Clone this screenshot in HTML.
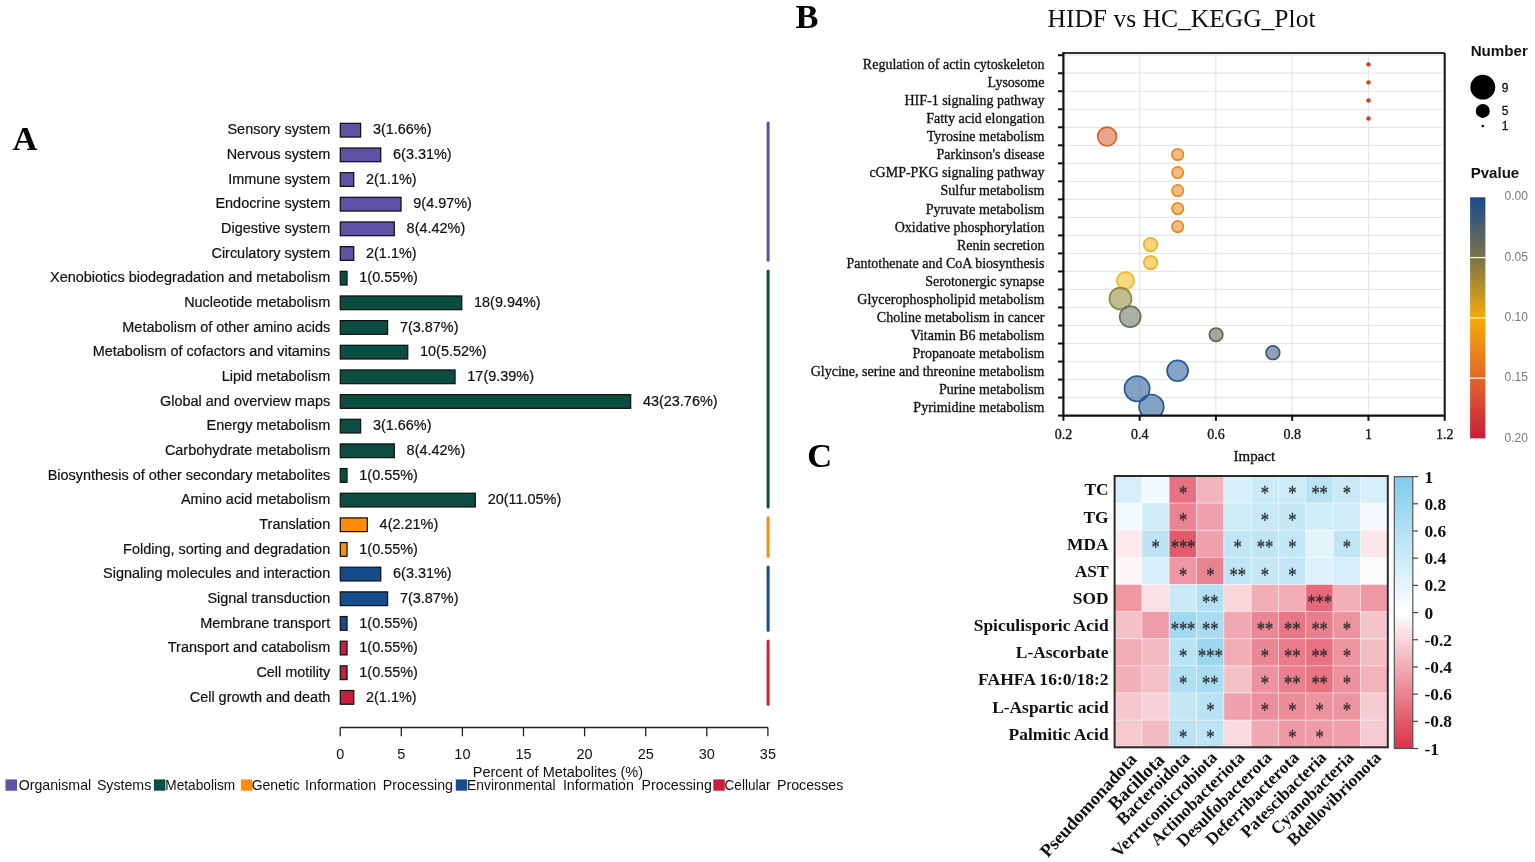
<!DOCTYPE html>
<html><head><meta charset="utf-8"><title>KEGG figure</title>
<style>
html,body{margin:0;padding:0;background:#fff;}
svg{display:block;}
</style></head>
<body>
<svg width="1535" height="862" viewBox="0 0 1535 862">
<rect width="1535" height="862" fill="#fff"/>
<g font-family="'Liberation Sans', Arial, sans-serif" font-size="14.45" fill="#111" stroke="#111" stroke-width="0.2">
<text x="330.2" y="134.40" text-anchor="end">Sensory system</text>
<rect x="340.30" y="123.35" width="20.29" height="13.7" fill="#5F51A6" stroke="#111" stroke-width="1.25"/>
<text x="372.89" y="134.40">3(1.66%)</text>
<text x="330.2" y="159.06" text-anchor="end">Nervous system</text>
<rect x="340.30" y="148.01" width="40.45" height="13.7" fill="#5F51A6" stroke="#111" stroke-width="1.25"/>
<text x="393.05" y="159.06">6(3.31%)</text>
<text x="330.2" y="183.72" text-anchor="end">Immune system</text>
<rect x="340.30" y="172.67" width="13.44" height="13.7" fill="#5F51A6" stroke="#111" stroke-width="1.25"/>
<text x="366.04" y="183.72">2(1.1%)</text>
<text x="330.2" y="208.38" text-anchor="end">Endocrine system</text>
<rect x="340.30" y="197.33" width="60.73" height="13.7" fill="#5F51A6" stroke="#111" stroke-width="1.25"/>
<text x="413.33" y="208.38">9(4.97%)</text>
<text x="330.2" y="233.04" text-anchor="end">Digestive system</text>
<rect x="340.30" y="221.99" width="54.01" height="13.7" fill="#5F51A6" stroke="#111" stroke-width="1.25"/>
<text x="406.61" y="233.04">8(4.42%)</text>
<text x="330.2" y="257.70" text-anchor="end">Circulatory system</text>
<rect x="340.30" y="246.65" width="13.44" height="13.7" fill="#5F51A6" stroke="#111" stroke-width="1.25"/>
<text x="366.04" y="257.70">2(1.1%)</text>
<text x="330.2" y="282.36" text-anchor="end">Xenobiotics biodegradation and metabolism</text>
<rect x="340.30" y="271.31" width="6.72" height="13.7" fill="#0B4E41" stroke="#111" stroke-width="1.25"/>
<text x="359.32" y="282.36">1(0.55%)</text>
<text x="330.2" y="307.02" text-anchor="end">Nucleotide metabolism</text>
<rect x="340.30" y="295.97" width="121.47" height="13.7" fill="#0B4E41" stroke="#111" stroke-width="1.25"/>
<text x="474.07" y="307.02">18(9.94%)</text>
<text x="330.2" y="331.68" text-anchor="end">Metabolism of other amino acids</text>
<rect x="340.30" y="320.63" width="47.29" height="13.7" fill="#0B4E41" stroke="#111" stroke-width="1.25"/>
<text x="399.89" y="331.68">7(3.87%)</text>
<text x="330.2" y="356.34" text-anchor="end">Metabolism of cofactors and vitamins</text>
<rect x="340.30" y="345.29" width="67.45" height="13.7" fill="#0B4E41" stroke="#111" stroke-width="1.25"/>
<text x="420.05" y="356.34">10(5.52%)</text>
<text x="330.2" y="381.00" text-anchor="end">Lipid metabolism</text>
<rect x="340.30" y="369.95" width="114.75" height="13.7" fill="#0B4E41" stroke="#111" stroke-width="1.25"/>
<text x="467.35" y="381.00">17(9.39%)</text>
<text x="330.2" y="405.66" text-anchor="end">Global and overview maps</text>
<rect x="340.30" y="394.61" width="290.35" height="13.7" fill="#0B4E41" stroke="#111" stroke-width="1.25"/>
<text x="642.95" y="405.66">43(23.76%)</text>
<text x="330.2" y="430.32" text-anchor="end">Energy metabolism</text>
<rect x="340.30" y="419.27" width="20.29" height="13.7" fill="#0B4E41" stroke="#111" stroke-width="1.25"/>
<text x="372.89" y="430.32">3(1.66%)</text>
<text x="330.2" y="454.98" text-anchor="end">Carbohydrate metabolism</text>
<rect x="340.30" y="443.93" width="54.01" height="13.7" fill="#0B4E41" stroke="#111" stroke-width="1.25"/>
<text x="406.61" y="454.98">8(4.42%)</text>
<text x="330.2" y="479.64" text-anchor="end">Biosynthesis of other secondary metabolites</text>
<rect x="340.30" y="468.59" width="6.72" height="13.7" fill="#0B4E41" stroke="#111" stroke-width="1.25"/>
<text x="359.32" y="479.64">1(0.55%)</text>
<text x="330.2" y="504.30" text-anchor="end">Amino acid metabolism</text>
<rect x="340.30" y="493.25" width="135.03" height="13.7" fill="#0B4E41" stroke="#111" stroke-width="1.25"/>
<text x="487.63" y="504.30">20(11.05%)</text>
<text x="330.2" y="528.96" text-anchor="end">Translation</text>
<rect x="340.30" y="517.91" width="27.01" height="13.7" fill="#FF8C0A" stroke="#111" stroke-width="1.25"/>
<text x="379.61" y="528.96">4(2.21%)</text>
<text x="330.2" y="553.62" text-anchor="end">Folding, sorting and degradation</text>
<rect x="340.30" y="542.57" width="6.72" height="13.7" fill="#FF8C0A" stroke="#111" stroke-width="1.25"/>
<text x="359.32" y="553.62">1(0.55%)</text>
<text x="330.2" y="578.28" text-anchor="end">Signaling molecules and interaction</text>
<rect x="340.30" y="567.23" width="40.45" height="13.7" fill="#154C8C" stroke="#111" stroke-width="1.25"/>
<text x="393.05" y="578.28">6(3.31%)</text>
<text x="330.2" y="602.94" text-anchor="end">Signal transduction</text>
<rect x="340.30" y="591.89" width="47.29" height="13.7" fill="#154C8C" stroke="#111" stroke-width="1.25"/>
<text x="399.89" y="602.94">7(3.87%)</text>
<text x="330.2" y="627.60" text-anchor="end">Membrane transport</text>
<rect x="340.30" y="616.55" width="6.72" height="13.7" fill="#154C8C" stroke="#111" stroke-width="1.25"/>
<text x="359.32" y="627.60">1(0.55%)</text>
<text x="330.2" y="652.26" text-anchor="end">Transport and catabolism</text>
<rect x="340.30" y="641.21" width="6.72" height="13.7" fill="#C8203A" stroke="#111" stroke-width="1.25"/>
<text x="359.32" y="652.26">1(0.55%)</text>
<text x="330.2" y="676.92" text-anchor="end">Cell motility</text>
<rect x="340.30" y="665.87" width="6.72" height="13.7" fill="#C8203A" stroke="#111" stroke-width="1.25"/>
<text x="359.32" y="676.92">1(0.55%)</text>
<text x="330.2" y="701.58" text-anchor="end">Cell growth and death</text>
<rect x="340.30" y="690.53" width="13.44" height="13.7" fill="#C8203A" stroke="#111" stroke-width="1.25"/>
<text x="366.04" y="701.58">2(1.1%)</text>
</g>
<line x1="768.1" y1="123.10" x2="768.1" y2="260.30" stroke="#5F51A6" stroke-width="3" stroke-linecap="round"/>
<line x1="768.1" y1="271.06" x2="768.1" y2="506.90" stroke="#0B4E41" stroke-width="3" stroke-linecap="round"/>
<line x1="768.1" y1="517.66" x2="768.1" y2="556.22" stroke="#FF8C0A" stroke-width="3" stroke-linecap="round"/>
<line x1="768.1" y1="566.98" x2="768.1" y2="630.20" stroke="#154C8C" stroke-width="3" stroke-linecap="round"/>
<line x1="768.1" y1="640.96" x2="768.1" y2="704.18" stroke="#C8203A" stroke-width="3" stroke-linecap="round"/>
<g stroke="#222" stroke-width="1.3" fill="none">
<line x1="340.20" y1="727.5" x2="767.90" y2="727.5"/>
<line x1="340.20" y1="727.5" x2="340.20" y2="736.3"/>
<line x1="401.30" y1="727.5" x2="401.30" y2="736.3"/>
<line x1="462.40" y1="727.5" x2="462.40" y2="736.3"/>
<line x1="523.50" y1="727.5" x2="523.50" y2="736.3"/>
<line x1="584.60" y1="727.5" x2="584.60" y2="736.3"/>
<line x1="645.70" y1="727.5" x2="645.70" y2="736.3"/>
<line x1="706.80" y1="727.5" x2="706.80" y2="736.3"/>
<line x1="767.90" y1="727.5" x2="767.90" y2="736.3"/>
</g>
<g font-family="'Liberation Sans', Arial, sans-serif" font-size="14.45" fill="#111" text-anchor="middle">
<text x="340.20" y="759.3">0</text>
<text x="401.30" y="759.3">5</text>
<text x="462.40" y="759.3">10</text>
<text x="523.50" y="759.3">15</text>
<text x="584.60" y="759.3">20</text>
<text x="645.70" y="759.3">25</text>
<text x="706.80" y="759.3">30</text>
<text x="767.90" y="759.3">35</text>
<text x="557.9" y="776.7">Percent of Metabolites (%)</text>
</g>
<rect x="5.5" y="779.4" width="11.5" height="11.3" fill="#5F51A6"/>
<rect x="153.9" y="779.4" width="11.5" height="11.3" fill="#0B4E41"/>
<rect x="240.9" y="779.4" width="11.5" height="11.3" fill="#FF8C0A"/>
<rect x="455.8" y="779.4" width="11.5" height="11.3" fill="#154C8C"/>
<rect x="713.3" y="779.4" width="11.5" height="11.3" fill="#C8203A"/>
<g font-family="'Liberation Sans', Arial, sans-serif" font-size="14.2" fill="#111">
<text x="18.70" y="790.2">Organismal</text>
<text x="96.90" y="790.2">Systems</text>
<text x="165.30" y="790.2" textLength="69.9" lengthAdjust="spacingAndGlyphs">Metabolism</text>
<text x="251.70" y="790.2" textLength="48.0" lengthAdjust="spacingAndGlyphs">Genetic</text>
<text x="305.10" y="790.2">Information</text>
<text x="382.80" y="790.2">Processing</text>
<text x="467.00" y="790.2" textLength="88.6" lengthAdjust="spacingAndGlyphs">Environmental</text>
<text x="562.90" y="790.2">Information</text>
<text x="641.60" y="790.2">Processing</text>
<text x="724.60" y="790.2" textLength="45.9" lengthAdjust="spacingAndGlyphs">Cellular</text>
<text x="777.00" y="790.2">Processes</text>
</g>
<text x="12.6" y="149.6" font-family="'Liberation Serif', 'Times New Roman', serif" font-weight="bold" font-size="34.5" fill="#000">A</text>
<text x="795.4" y="27.6" font-family="'Liberation Serif', 'Times New Roman', serif" font-weight="bold" font-size="34.5" fill="#000">B</text>
<text x="1181.5" y="27" font-family="'Liberation Serif', 'Times New Roman', serif" font-size="24.5" text-anchor="middle" fill="#111" textLength="268" lengthAdjust="spacingAndGlyphs">HIDF vs HC_KEGG_Plot</text>
<g stroke="#E6E6E6" stroke-width="1.2">
<line x1="1063.4" y1="55.20" x2="1444.7" y2="55.20"/>
<line x1="1063.4" y1="73.22" x2="1444.7" y2="73.22"/>
<line x1="1063.4" y1="91.24" x2="1444.7" y2="91.24"/>
<line x1="1063.4" y1="109.26" x2="1444.7" y2="109.26"/>
<line x1="1063.4" y1="127.28" x2="1444.7" y2="127.28"/>
<line x1="1063.4" y1="145.30" x2="1444.7" y2="145.30"/>
<line x1="1063.4" y1="163.32" x2="1444.7" y2="163.32"/>
<line x1="1063.4" y1="181.34" x2="1444.7" y2="181.34"/>
<line x1="1063.4" y1="199.36" x2="1444.7" y2="199.36"/>
<line x1="1063.4" y1="217.38" x2="1444.7" y2="217.38"/>
<line x1="1063.4" y1="235.40" x2="1444.7" y2="235.40"/>
<line x1="1063.4" y1="253.42" x2="1444.7" y2="253.42"/>
<line x1="1063.4" y1="271.44" x2="1444.7" y2="271.44"/>
<line x1="1063.4" y1="289.46" x2="1444.7" y2="289.46"/>
<line x1="1063.4" y1="307.48" x2="1444.7" y2="307.48"/>
<line x1="1063.4" y1="325.50" x2="1444.7" y2="325.50"/>
<line x1="1063.4" y1="343.52" x2="1444.7" y2="343.52"/>
<line x1="1063.4" y1="361.54" x2="1444.7" y2="361.54"/>
<line x1="1063.4" y1="379.56" x2="1444.7" y2="379.56"/>
<line x1="1063.4" y1="397.58" x2="1444.7" y2="397.58"/>
<line x1="1139.66" y1="52.9" x2="1139.66" y2="415.7"/>
<line x1="1215.92" y1="52.9" x2="1215.92" y2="415.7"/>
<line x1="1292.18" y1="52.9" x2="1292.18" y2="415.7"/>
<line x1="1368.44" y1="52.9" x2="1368.44" y2="415.7"/>
</g>
<defs><clipPath id="bclip"><rect x="1063.4" y="52.9" width="381.29999999999995" height="362.8"/></clipPath></defs>
<g clip-path="url(#bclip)">
<circle cx="1368.5" cy="64.40" r="2.2" fill="#D4401A"/>
<circle cx="1368.5" cy="82.42" r="2.2" fill="#D4401A"/>
<circle cx="1368.5" cy="100.44" r="2.2" fill="#D4401A"/>
<circle cx="1368.5" cy="118.46" r="2.2" fill="#D4401A"/>
<circle cx="1107.1" cy="136.48" r="9.40" fill="#D9612F" fill-opacity="0.56" stroke="#D9612F" stroke-width="1.7"/>
<circle cx="1177.7" cy="154.50" r="5.70" fill="#E8891E" fill-opacity="0.56" stroke="#E8891E" stroke-width="1.7"/>
<circle cx="1177.7" cy="172.52" r="5.70" fill="#E8891E" fill-opacity="0.56" stroke="#E8891E" stroke-width="1.7"/>
<circle cx="1177.7" cy="190.54" r="5.70" fill="#E8891E" fill-opacity="0.56" stroke="#E8891E" stroke-width="1.7"/>
<circle cx="1177.7" cy="208.56" r="5.70" fill="#E8891E" fill-opacity="0.56" stroke="#E8891E" stroke-width="1.7"/>
<circle cx="1177.7" cy="226.58" r="5.70" fill="#E8891E" fill-opacity="0.56" stroke="#E8891E" stroke-width="1.7"/>
<circle cx="1150.6" cy="244.60" r="6.80" fill="#F0B21A" fill-opacity="0.56" stroke="#F0B21A" stroke-width="1.7"/>
<circle cx="1150.6" cy="262.62" r="6.80" fill="#F0B21A" fill-opacity="0.56" stroke="#F0B21A" stroke-width="1.7"/>
<circle cx="1125.5" cy="280.64" r="8.60" fill="#F2B820" fill-opacity="0.56" stroke="#F2B820" stroke-width="1.7"/>
<circle cx="1120.4" cy="298.66" r="11.00" fill="#8E8A3A" fill-opacity="0.56" stroke="#8E8A3A" stroke-width="1.7"/>
<circle cx="1130.2" cy="316.68" r="10.50" fill="#69735E" fill-opacity="0.56" stroke="#69735E" stroke-width="1.7"/>
<circle cx="1216.1" cy="334.70" r="6.70" fill="#5E6850" fill-opacity="0.56" stroke="#5E6850" stroke-width="1.7"/>
<circle cx="1272.9" cy="352.72" r="6.80" fill="#3A5A7A" fill-opacity="0.56" stroke="#3A5A7A" stroke-width="1.7"/>
<circle cx="1177.6" cy="370.74" r="10.50" fill="#245C96" fill-opacity="0.56" stroke="#245C96" stroke-width="1.7"/>
<circle cx="1137.1" cy="388.76" r="12.60" fill="#235A95" fill-opacity="0.56" stroke="#235A95" stroke-width="1.7"/>
<circle cx="1151.4" cy="406.78" r="12.30" fill="#235A95" fill-opacity="0.56" stroke="#235A95" stroke-width="1.7"/>
</g>
<g stroke="#111" fill="none">
<line x1="1063.4" y1="52.9" x2="1444.7" y2="52.9" stroke="#333" stroke-width="2"/>
<line x1="1444.7" y1="52.9" x2="1444.7" y2="415.7" stroke-width="2"/>
<line x1="1063.4" y1="51.9" x2="1063.4" y2="416.7" stroke-width="2.2"/>
<line x1="1062.4" y1="415.7" x2="1445.7" y2="415.7" stroke-width="2.2"/>
<line x1="1058" y1="55.20" x2="1063.4" y2="55.20" stroke-width="2"/>
<line x1="1058" y1="73.22" x2="1063.4" y2="73.22" stroke-width="2"/>
<line x1="1058" y1="91.24" x2="1063.4" y2="91.24" stroke-width="2"/>
<line x1="1058" y1="109.26" x2="1063.4" y2="109.26" stroke-width="2"/>
<line x1="1058" y1="127.28" x2="1063.4" y2="127.28" stroke-width="2"/>
<line x1="1058" y1="145.30" x2="1063.4" y2="145.30" stroke-width="2"/>
<line x1="1058" y1="163.32" x2="1063.4" y2="163.32" stroke-width="2"/>
<line x1="1058" y1="181.34" x2="1063.4" y2="181.34" stroke-width="2"/>
<line x1="1058" y1="199.36" x2="1063.4" y2="199.36" stroke-width="2"/>
<line x1="1058" y1="217.38" x2="1063.4" y2="217.38" stroke-width="2"/>
<line x1="1058" y1="235.40" x2="1063.4" y2="235.40" stroke-width="2"/>
<line x1="1058" y1="253.42" x2="1063.4" y2="253.42" stroke-width="2"/>
<line x1="1058" y1="271.44" x2="1063.4" y2="271.44" stroke-width="2"/>
<line x1="1058" y1="289.46" x2="1063.4" y2="289.46" stroke-width="2"/>
<line x1="1058" y1="307.48" x2="1063.4" y2="307.48" stroke-width="2"/>
<line x1="1058" y1="325.50" x2="1063.4" y2="325.50" stroke-width="2"/>
<line x1="1058" y1="343.52" x2="1063.4" y2="343.52" stroke-width="2"/>
<line x1="1058" y1="361.54" x2="1063.4" y2="361.54" stroke-width="2"/>
<line x1="1058" y1="379.56" x2="1063.4" y2="379.56" stroke-width="2"/>
<line x1="1058" y1="397.58" x2="1063.4" y2="397.58" stroke-width="2"/>
<line x1="1058" y1="415.60" x2="1063.4" y2="415.60" stroke-width="2"/>
<line x1="1063.40" y1="415.7" x2="1063.40" y2="420.8" stroke-width="2"/>
<line x1="1139.66" y1="415.7" x2="1139.66" y2="420.8" stroke-width="2"/>
<line x1="1215.92" y1="415.7" x2="1215.92" y2="420.8" stroke-width="2"/>
<line x1="1292.18" y1="415.7" x2="1292.18" y2="420.8" stroke-width="2"/>
<line x1="1368.44" y1="415.7" x2="1368.44" y2="420.8" stroke-width="2"/>
<line x1="1444.70" y1="415.7" x2="1444.70" y2="420.8" stroke-width="2"/>
</g>
<g font-family="'Liberation Serif', 'Times New Roman', serif" font-size="14" fill="#111" stroke="#111" stroke-width="0.3">
<text x="1044.4" y="69.35" text-anchor="end">Regulation of actin cytoskeleton</text>
<text x="1044.4" y="87.37" text-anchor="end">Lysosome</text>
<text x="1044.4" y="105.39" text-anchor="end">HIF-1 signaling pathway</text>
<text x="1044.4" y="123.41" text-anchor="end">Fatty acid elongation</text>
<text x="1044.4" y="141.43" text-anchor="end">Tyrosine metabolism</text>
<text x="1044.4" y="159.45" text-anchor="end">Parkinson&#39;s disease</text>
<text x="1044.4" y="177.47" text-anchor="end">cGMP-PKG signaling pathway</text>
<text x="1044.4" y="195.49" text-anchor="end">Sulfur metabolism</text>
<text x="1044.4" y="213.51" text-anchor="end">Pyruvate metabolism</text>
<text x="1044.4" y="231.53" text-anchor="end">Oxidative phosphorylation</text>
<text x="1044.4" y="249.55" text-anchor="end">Renin secretion</text>
<text x="1044.4" y="267.57" text-anchor="end">Pantothenate and CoA biosynthesis</text>
<text x="1044.4" y="285.59" text-anchor="end">Serotonergic synapse</text>
<text x="1044.4" y="303.61" text-anchor="end">Glycerophospholipid metabolism</text>
<text x="1044.4" y="321.63" text-anchor="end">Choline metabolism in cancer</text>
<text x="1044.4" y="339.65" text-anchor="end">Vitamin B6 metabolism</text>
<text x="1044.4" y="357.67" text-anchor="end">Propanoate metabolism</text>
<text x="1044.4" y="375.69" text-anchor="end">Glycine, serine and threonine metabolism</text>
<text x="1044.4" y="393.71" text-anchor="end">Purine metabolism</text>
<text x="1044.4" y="411.73" text-anchor="end">Pyrimidine metabolism</text>
<text x="1063.40" y="438.8" text-anchor="middle">0.2</text>
<text x="1139.66" y="438.8" text-anchor="middle">0.4</text>
<text x="1215.92" y="438.8" text-anchor="middle">0.6</text>
<text x="1292.18" y="438.8" text-anchor="middle">0.8</text>
<text x="1368.44" y="438.8" text-anchor="middle">1</text>
<text x="1444.70" y="438.8" text-anchor="middle">1.2</text>
<text x="1254.3" y="461.1" text-anchor="middle" textLength="41.5" lengthAdjust="spacingAndGlyphs">Impact</text>
</g>
<g font-family="'Liberation Sans', Arial, sans-serif" font-weight="bold" font-size="14.5" fill="#111">
<text x="1470.7" y="55.9" textLength="57.2" lengthAdjust="spacingAndGlyphs">Number</text>
<text x="1470.7" y="177.6" textLength="48.5" lengthAdjust="spacingAndGlyphs">Pvalue</text>
</g>
<g fill="#000">
<circle cx="1482.8" cy="87.2" r="12.4"/>
<circle cx="1482.8" cy="110.9" r="7"/>
<circle cx="1482.8" cy="126" r="1.3"/>
</g>
<g font-family="'Liberation Sans', Arial, sans-serif" font-size="12" fill="#111" stroke="#111" stroke-width="0.3">
<text x="1501.8" y="91.50">9</text>
<text x="1501.8" y="115.20">5</text>
<text x="1501.8" y="130.30">1</text>
</g>
<defs><linearGradient id="pgrad" x1="0" y1="0" x2="0" y2="1"><stop offset="0" stop-color="#1B4A8C"/><stop offset="0.25" stop-color="#77744A"/><stop offset="0.5" stop-color="#F7AA0A"/><stop offset="0.75" stop-color="#E2662A"/><stop offset="1" stop-color="#C81E3C"/></linearGradient></defs>
<rect x="1470.1" y="197.3" width="15.3" height="241.1" fill="url(#pgrad)"/>
<g stroke="#fff" stroke-width="1.3" opacity="0.9">
<line x1="1470.1" y1="257.57" x2="1485.4" y2="257.57"/>
<line x1="1470.1" y1="317.85" x2="1485.4" y2="317.85"/>
<line x1="1470.1" y1="378.12" x2="1485.4" y2="378.12"/>
</g>
<g font-family="'Liberation Sans', Arial, sans-serif" font-size="12" fill="#7a7a7a">
<text x="1504.6" y="200.30">0.00</text>
<text x="1504.6" y="260.60">0.05</text>
<text x="1504.6" y="320.90">0.10</text>
<text x="1504.6" y="381.20">0.15</text>
<text x="1504.6" y="441.50">0.20</text>
</g>
<text x="807.3" y="466.5" font-family="'Liberation Serif', 'Times New Roman', serif" font-weight="bold" font-size="34.5" fill="#000">C</text>
<rect x="1114.60" y="476.00" width="27.32" height="27.13" fill="#D5EEF9" stroke="#fff" stroke-opacity="0.4" stroke-width="0.9"/>
<rect x="1141.92" y="476.00" width="27.32" height="27.13" fill="#F0F9FD" stroke="#fff" stroke-opacity="0.4" stroke-width="0.9"/>
<rect x="1169.24" y="476.00" width="27.32" height="27.13" fill="#E77283" stroke="#fff" stroke-opacity="0.4" stroke-width="0.9"/>
<rect x="1196.56" y="476.00" width="27.32" height="27.13" fill="#F2B4BD" stroke="#fff" stroke-opacity="0.4" stroke-width="0.9"/>
<rect x="1223.88" y="476.00" width="27.32" height="27.13" fill="#D6EFF9" stroke="#fff" stroke-opacity="0.4" stroke-width="0.9"/>
<rect x="1251.20" y="476.00" width="27.32" height="27.13" fill="#CCEBF7" stroke="#fff" stroke-opacity="0.4" stroke-width="0.9"/>
<rect x="1278.52" y="476.00" width="27.32" height="27.13" fill="#CCEBF7" stroke="#fff" stroke-opacity="0.4" stroke-width="0.9"/>
<rect x="1305.84" y="476.00" width="27.32" height="27.13" fill="#B9E3F5" stroke="#fff" stroke-opacity="0.4" stroke-width="0.9"/>
<rect x="1333.16" y="476.00" width="27.32" height="27.13" fill="#CAEAF7" stroke="#fff" stroke-opacity="0.4" stroke-width="0.9"/>
<rect x="1360.48" y="476.00" width="27.32" height="27.13" fill="#D5EEF9" stroke="#fff" stroke-opacity="0.4" stroke-width="0.9"/>
<rect x="1114.60" y="503.13" width="27.32" height="27.13" fill="#F2FAFD" stroke="#fff" stroke-opacity="0.4" stroke-width="0.9"/>
<rect x="1141.92" y="503.13" width="27.32" height="27.13" fill="#CFECF8" stroke="#fff" stroke-opacity="0.4" stroke-width="0.9"/>
<rect x="1169.24" y="503.13" width="27.32" height="27.13" fill="#EA8391" stroke="#fff" stroke-opacity="0.4" stroke-width="0.9"/>
<rect x="1196.56" y="503.13" width="27.32" height="27.13" fill="#EFA2AD" stroke="#fff" stroke-opacity="0.4" stroke-width="0.9"/>
<rect x="1223.88" y="503.13" width="27.32" height="27.13" fill="#CCEBF7" stroke="#fff" stroke-opacity="0.4" stroke-width="0.9"/>
<rect x="1251.20" y="503.13" width="27.32" height="27.13" fill="#C8E9F7" stroke="#fff" stroke-opacity="0.4" stroke-width="0.9"/>
<rect x="1278.52" y="503.13" width="27.32" height="27.13" fill="#C5E8F6" stroke="#fff" stroke-opacity="0.4" stroke-width="0.9"/>
<rect x="1305.84" y="503.13" width="27.32" height="27.13" fill="#D1EDF8" stroke="#fff" stroke-opacity="0.4" stroke-width="0.9"/>
<rect x="1333.16" y="503.13" width="27.32" height="27.13" fill="#CFECF8" stroke="#fff" stroke-opacity="0.4" stroke-width="0.9"/>
<rect x="1360.48" y="503.13" width="27.32" height="27.13" fill="#F5FBFD" stroke="#fff" stroke-opacity="0.4" stroke-width="0.9"/>
<rect x="1114.60" y="530.26" width="27.32" height="27.13" fill="#FCEAED" stroke="#fff" stroke-opacity="0.4" stroke-width="0.9"/>
<rect x="1141.92" y="530.26" width="27.32" height="27.13" fill="#BDE4F5" stroke="#fff" stroke-opacity="0.4" stroke-width="0.9"/>
<rect x="1169.24" y="530.26" width="27.32" height="27.13" fill="#E3596D" stroke="#fff" stroke-opacity="0.4" stroke-width="0.9"/>
<rect x="1196.56" y="530.26" width="27.32" height="27.13" fill="#EFA2AD" stroke="#fff" stroke-opacity="0.4" stroke-width="0.9"/>
<rect x="1223.88" y="530.26" width="27.32" height="27.13" fill="#C0E6F6" stroke="#fff" stroke-opacity="0.4" stroke-width="0.9"/>
<rect x="1251.20" y="530.26" width="27.32" height="27.13" fill="#C0E6F6" stroke="#fff" stroke-opacity="0.4" stroke-width="0.9"/>
<rect x="1278.52" y="530.26" width="27.32" height="27.13" fill="#C2E7F6" stroke="#fff" stroke-opacity="0.4" stroke-width="0.9"/>
<rect x="1305.84" y="530.26" width="27.32" height="27.13" fill="#E3F4FB" stroke="#fff" stroke-opacity="0.4" stroke-width="0.9"/>
<rect x="1333.16" y="530.26" width="27.32" height="27.13" fill="#C0E6F6" stroke="#fff" stroke-opacity="0.4" stroke-width="0.9"/>
<rect x="1360.48" y="530.26" width="27.32" height="27.13" fill="#FBE6E9" stroke="#fff" stroke-opacity="0.4" stroke-width="0.9"/>
<rect x="1114.60" y="557.39" width="27.32" height="27.13" fill="#FEF7F8" stroke="#fff" stroke-opacity="0.4" stroke-width="0.9"/>
<rect x="1141.92" y="557.39" width="27.32" height="27.13" fill="#D5EEF9" stroke="#fff" stroke-opacity="0.4" stroke-width="0.9"/>
<rect x="1169.24" y="557.39" width="27.32" height="27.13" fill="#EE98A4" stroke="#fff" stroke-opacity="0.4" stroke-width="0.9"/>
<rect x="1196.56" y="557.39" width="27.32" height="27.13" fill="#EA8391" stroke="#fff" stroke-opacity="0.4" stroke-width="0.9"/>
<rect x="1223.88" y="557.39" width="27.32" height="27.13" fill="#C0E6F6" stroke="#fff" stroke-opacity="0.4" stroke-width="0.9"/>
<rect x="1251.20" y="557.39" width="27.32" height="27.13" fill="#C6E8F6" stroke="#fff" stroke-opacity="0.4" stroke-width="0.9"/>
<rect x="1278.52" y="557.39" width="27.32" height="27.13" fill="#C3E7F6" stroke="#fff" stroke-opacity="0.4" stroke-width="0.9"/>
<rect x="1305.84" y="557.39" width="27.32" height="27.13" fill="#DFF2FA" stroke="#fff" stroke-opacity="0.4" stroke-width="0.9"/>
<rect x="1333.16" y="557.39" width="27.32" height="27.13" fill="#D5EEF9" stroke="#fff" stroke-opacity="0.4" stroke-width="0.9"/>
<rect x="1360.48" y="557.39" width="27.32" height="27.13" fill="#FEFBFB" stroke="#fff" stroke-opacity="0.4" stroke-width="0.9"/>
<rect x="1114.60" y="584.52" width="27.32" height="27.13" fill="#EE98A4" stroke="#fff" stroke-opacity="0.4" stroke-width="0.9"/>
<rect x="1141.92" y="584.52" width="27.32" height="27.13" fill="#FAE0E4" stroke="#fff" stroke-opacity="0.4" stroke-width="0.9"/>
<rect x="1169.24" y="584.52" width="27.32" height="27.13" fill="#CAEAF7" stroke="#fff" stroke-opacity="0.4" stroke-width="0.9"/>
<rect x="1196.56" y="584.52" width="27.32" height="27.13" fill="#B3E0F4" stroke="#fff" stroke-opacity="0.4" stroke-width="0.9"/>
<rect x="1223.88" y="584.52" width="27.32" height="27.13" fill="#F8D6DA" stroke="#fff" stroke-opacity="0.4" stroke-width="0.9"/>
<rect x="1251.20" y="584.52" width="27.32" height="27.13" fill="#F1ACB6" stroke="#fff" stroke-opacity="0.4" stroke-width="0.9"/>
<rect x="1278.52" y="584.52" width="27.32" height="27.13" fill="#F1ACB6" stroke="#fff" stroke-opacity="0.4" stroke-width="0.9"/>
<rect x="1305.84" y="584.52" width="27.32" height="27.13" fill="#E66A7B" stroke="#fff" stroke-opacity="0.4" stroke-width="0.9"/>
<rect x="1333.16" y="584.52" width="27.32" height="27.13" fill="#F2B0B9" stroke="#fff" stroke-opacity="0.4" stroke-width="0.9"/>
<rect x="1360.48" y="584.52" width="27.32" height="27.13" fill="#EE98A4" stroke="#fff" stroke-opacity="0.4" stroke-width="0.9"/>
<rect x="1114.60" y="611.65" width="27.32" height="27.13" fill="#F4C1C8" stroke="#fff" stroke-opacity="0.4" stroke-width="0.9"/>
<rect x="1141.92" y="611.65" width="27.32" height="27.13" fill="#EE9CA7" stroke="#fff" stroke-opacity="0.4" stroke-width="0.9"/>
<rect x="1169.24" y="611.65" width="27.32" height="27.13" fill="#A0D9F1" stroke="#fff" stroke-opacity="0.4" stroke-width="0.9"/>
<rect x="1196.56" y="611.65" width="27.32" height="27.13" fill="#A9DCF2" stroke="#fff" stroke-opacity="0.4" stroke-width="0.9"/>
<rect x="1223.88" y="611.65" width="27.32" height="27.13" fill="#F0A8B2" stroke="#fff" stroke-opacity="0.4" stroke-width="0.9"/>
<rect x="1251.20" y="611.65" width="27.32" height="27.13" fill="#EB8795" stroke="#fff" stroke-opacity="0.4" stroke-width="0.9"/>
<rect x="1278.52" y="611.65" width="27.32" height="27.13" fill="#E87686" stroke="#fff" stroke-opacity="0.4" stroke-width="0.9"/>
<rect x="1305.84" y="611.65" width="27.32" height="27.13" fill="#E97F8E" stroke="#fff" stroke-opacity="0.4" stroke-width="0.9"/>
<rect x="1333.16" y="611.65" width="27.32" height="27.13" fill="#ED93A0" stroke="#fff" stroke-opacity="0.4" stroke-width="0.9"/>
<rect x="1360.48" y="611.65" width="27.32" height="27.13" fill="#F5C5CC" stroke="#fff" stroke-opacity="0.4" stroke-width="0.9"/>
<rect x="1114.60" y="638.78" width="27.32" height="27.13" fill="#F1ACB6" stroke="#fff" stroke-opacity="0.4" stroke-width="0.9"/>
<rect x="1141.92" y="638.78" width="27.32" height="27.13" fill="#F3B9C1" stroke="#fff" stroke-opacity="0.4" stroke-width="0.9"/>
<rect x="1169.24" y="638.78" width="27.32" height="27.13" fill="#B9E3F5" stroke="#fff" stroke-opacity="0.4" stroke-width="0.9"/>
<rect x="1196.56" y="638.78" width="27.32" height="27.13" fill="#9CD7F0" stroke="#fff" stroke-opacity="0.4" stroke-width="0.9"/>
<rect x="1223.88" y="638.78" width="27.32" height="27.13" fill="#F1ACB6" stroke="#fff" stroke-opacity="0.4" stroke-width="0.9"/>
<rect x="1251.20" y="638.78" width="27.32" height="27.13" fill="#EB8795" stroke="#fff" stroke-opacity="0.4" stroke-width="0.9"/>
<rect x="1278.52" y="638.78" width="27.32" height="27.13" fill="#E97B8A" stroke="#fff" stroke-opacity="0.4" stroke-width="0.9"/>
<rect x="1305.84" y="638.78" width="27.32" height="27.13" fill="#E77283" stroke="#fff" stroke-opacity="0.4" stroke-width="0.9"/>
<rect x="1333.16" y="638.78" width="27.32" height="27.13" fill="#ED93A0" stroke="#fff" stroke-opacity="0.4" stroke-width="0.9"/>
<rect x="1360.48" y="638.78" width="27.32" height="27.13" fill="#F4BDC4" stroke="#fff" stroke-opacity="0.4" stroke-width="0.9"/>
<rect x="1114.60" y="665.91" width="27.32" height="27.13" fill="#F2B0B9" stroke="#fff" stroke-opacity="0.4" stroke-width="0.9"/>
<rect x="1141.92" y="665.91" width="27.32" height="27.13" fill="#F4C1C8" stroke="#fff" stroke-opacity="0.4" stroke-width="0.9"/>
<rect x="1169.24" y="665.91" width="27.32" height="27.13" fill="#B0DFF3" stroke="#fff" stroke-opacity="0.4" stroke-width="0.9"/>
<rect x="1196.56" y="665.91" width="27.32" height="27.13" fill="#ABDDF2" stroke="#fff" stroke-opacity="0.4" stroke-width="0.9"/>
<rect x="1223.88" y="665.91" width="27.32" height="27.13" fill="#F4C1C8" stroke="#fff" stroke-opacity="0.4" stroke-width="0.9"/>
<rect x="1251.20" y="665.91" width="27.32" height="27.13" fill="#ED93A0" stroke="#fff" stroke-opacity="0.4" stroke-width="0.9"/>
<rect x="1278.52" y="665.91" width="27.32" height="27.13" fill="#E97F8E" stroke="#fff" stroke-opacity="0.4" stroke-width="0.9"/>
<rect x="1305.84" y="665.91" width="27.32" height="27.13" fill="#E87484" stroke="#fff" stroke-opacity="0.4" stroke-width="0.9"/>
<rect x="1333.16" y="665.91" width="27.32" height="27.13" fill="#EC919E" stroke="#fff" stroke-opacity="0.4" stroke-width="0.9"/>
<rect x="1360.48" y="665.91" width="27.32" height="27.13" fill="#F2B2BB" stroke="#fff" stroke-opacity="0.4" stroke-width="0.9"/>
<rect x="1114.60" y="693.04" width="27.32" height="27.13" fill="#F6C7CE" stroke="#fff" stroke-opacity="0.4" stroke-width="0.9"/>
<rect x="1141.92" y="693.04" width="27.32" height="27.13" fill="#F7D1D7" stroke="#fff" stroke-opacity="0.4" stroke-width="0.9"/>
<rect x="1169.24" y="693.04" width="27.32" height="27.13" fill="#C6E8F6" stroke="#fff" stroke-opacity="0.4" stroke-width="0.9"/>
<rect x="1196.56" y="693.04" width="27.32" height="27.13" fill="#B9E3F5" stroke="#fff" stroke-opacity="0.4" stroke-width="0.9"/>
<rect x="1223.88" y="693.04" width="27.32" height="27.13" fill="#EFA2AD" stroke="#fff" stroke-opacity="0.4" stroke-width="0.9"/>
<rect x="1251.20" y="693.04" width="27.32" height="27.13" fill="#EC8F9C" stroke="#fff" stroke-opacity="0.4" stroke-width="0.9"/>
<rect x="1278.52" y="693.04" width="27.32" height="27.13" fill="#EC8D9A" stroke="#fff" stroke-opacity="0.4" stroke-width="0.9"/>
<rect x="1305.84" y="693.04" width="27.32" height="27.13" fill="#ED93A0" stroke="#fff" stroke-opacity="0.4" stroke-width="0.9"/>
<rect x="1333.16" y="693.04" width="27.32" height="27.13" fill="#ED93A0" stroke="#fff" stroke-opacity="0.4" stroke-width="0.9"/>
<rect x="1360.48" y="693.04" width="27.32" height="27.13" fill="#F6CBD1" stroke="#fff" stroke-opacity="0.4" stroke-width="0.9"/>
<rect x="1114.60" y="720.17" width="27.32" height="27.13" fill="#F6C9CF" stroke="#fff" stroke-opacity="0.4" stroke-width="0.9"/>
<rect x="1141.92" y="720.17" width="27.32" height="27.13" fill="#F3BBC3" stroke="#fff" stroke-opacity="0.4" stroke-width="0.9"/>
<rect x="1169.24" y="720.17" width="27.32" height="27.13" fill="#B9E3F5" stroke="#fff" stroke-opacity="0.4" stroke-width="0.9"/>
<rect x="1196.56" y="720.17" width="27.32" height="27.13" fill="#BDE4F5" stroke="#fff" stroke-opacity="0.4" stroke-width="0.9"/>
<rect x="1223.88" y="720.17" width="27.32" height="27.13" fill="#F9DADE" stroke="#fff" stroke-opacity="0.4" stroke-width="0.9"/>
<rect x="1251.20" y="720.17" width="27.32" height="27.13" fill="#F0A8B2" stroke="#fff" stroke-opacity="0.4" stroke-width="0.9"/>
<rect x="1278.52" y="720.17" width="27.32" height="27.13" fill="#EE98A4" stroke="#fff" stroke-opacity="0.4" stroke-width="0.9"/>
<rect x="1305.84" y="720.17" width="27.32" height="27.13" fill="#EE9CA7" stroke="#fff" stroke-opacity="0.4" stroke-width="0.9"/>
<rect x="1333.16" y="720.17" width="27.32" height="27.13" fill="#EFA0AB" stroke="#fff" stroke-opacity="0.4" stroke-width="0.9"/>
<rect x="1360.48" y="720.17" width="27.32" height="27.13" fill="#F6CBD1" stroke="#fff" stroke-opacity="0.4" stroke-width="0.9"/>
<rect x="1114.6" y="476.0" width="273.20" height="271.30" fill="none" stroke="#2a2a2a" stroke-width="2"/>
<g font-family="'Liberation Serif', 'Times New Roman', serif" font-size="16.6" fill="#2a2a2a" stroke="#2a2a2a" stroke-width="0.2" text-anchor="middle" letter-spacing="-0.1">
<text transform="translate(1183.00,489.56) scale(1,1.3)" x="0" y="8.2">*</text>
<text transform="translate(1264.96,489.56) scale(1,1.3)" x="0" y="8.2">*</text>
<text transform="translate(1292.28,489.56) scale(1,1.3)" x="0" y="8.2">*</text>
<text transform="translate(1319.60,489.56) scale(1,1.3)" x="0" y="8.2">**</text>
<text transform="translate(1346.92,489.56) scale(1,1.3)" x="0" y="8.2">*</text>
<text transform="translate(1183.00,516.69) scale(1,1.3)" x="0" y="8.2">*</text>
<text transform="translate(1264.96,516.69) scale(1,1.3)" x="0" y="8.2">*</text>
<text transform="translate(1292.28,516.69) scale(1,1.3)" x="0" y="8.2">*</text>
<text transform="translate(1155.68,543.83) scale(1,1.3)" x="0" y="8.2">*</text>
<text transform="translate(1183.00,543.83) scale(1,1.3)" x="0" y="8.2">***</text>
<text transform="translate(1237.64,543.83) scale(1,1.3)" x="0" y="8.2">*</text>
<text transform="translate(1264.96,543.83) scale(1,1.3)" x="0" y="8.2">**</text>
<text transform="translate(1292.28,543.83) scale(1,1.3)" x="0" y="8.2">*</text>
<text transform="translate(1346.92,543.83) scale(1,1.3)" x="0" y="8.2">*</text>
<text transform="translate(1183.00,570.95) scale(1,1.3)" x="0" y="8.2">*</text>
<text transform="translate(1210.32,570.95) scale(1,1.3)" x="0" y="8.2">*</text>
<text transform="translate(1237.64,570.95) scale(1,1.3)" x="0" y="8.2">**</text>
<text transform="translate(1264.96,570.95) scale(1,1.3)" x="0" y="8.2">*</text>
<text transform="translate(1292.28,570.95) scale(1,1.3)" x="0" y="8.2">*</text>
<text transform="translate(1210.32,598.09) scale(1,1.3)" x="0" y="8.2">**</text>
<text transform="translate(1319.60,598.09) scale(1,1.3)" x="0" y="8.2">***</text>
<text transform="translate(1183.00,625.21) scale(1,1.3)" x="0" y="8.2">***</text>
<text transform="translate(1210.32,625.21) scale(1,1.3)" x="0" y="8.2">**</text>
<text transform="translate(1264.96,625.21) scale(1,1.3)" x="0" y="8.2">**</text>
<text transform="translate(1292.28,625.21) scale(1,1.3)" x="0" y="8.2">**</text>
<text transform="translate(1319.60,625.21) scale(1,1.3)" x="0" y="8.2">**</text>
<text transform="translate(1346.92,625.21) scale(1,1.3)" x="0" y="8.2">*</text>
<text transform="translate(1183.00,652.35) scale(1,1.3)" x="0" y="8.2">*</text>
<text transform="translate(1210.32,652.35) scale(1,1.3)" x="0" y="8.2">***</text>
<text transform="translate(1264.96,652.35) scale(1,1.3)" x="0" y="8.2">*</text>
<text transform="translate(1292.28,652.35) scale(1,1.3)" x="0" y="8.2">**</text>
<text transform="translate(1319.60,652.35) scale(1,1.3)" x="0" y="8.2">**</text>
<text transform="translate(1346.92,652.35) scale(1,1.3)" x="0" y="8.2">*</text>
<text transform="translate(1183.00,679.47) scale(1,1.3)" x="0" y="8.2">*</text>
<text transform="translate(1210.32,679.47) scale(1,1.3)" x="0" y="8.2">**</text>
<text transform="translate(1264.96,679.47) scale(1,1.3)" x="0" y="8.2">*</text>
<text transform="translate(1292.28,679.47) scale(1,1.3)" x="0" y="8.2">**</text>
<text transform="translate(1319.60,679.47) scale(1,1.3)" x="0" y="8.2">**</text>
<text transform="translate(1346.92,679.47) scale(1,1.3)" x="0" y="8.2">*</text>
<text transform="translate(1210.32,706.61) scale(1,1.3)" x="0" y="8.2">*</text>
<text transform="translate(1264.96,706.61) scale(1,1.3)" x="0" y="8.2">*</text>
<text transform="translate(1292.28,706.61) scale(1,1.3)" x="0" y="8.2">*</text>
<text transform="translate(1319.60,706.61) scale(1,1.3)" x="0" y="8.2">*</text>
<text transform="translate(1346.92,706.61) scale(1,1.3)" x="0" y="8.2">*</text>
<text transform="translate(1183.00,733.73) scale(1,1.3)" x="0" y="8.2">*</text>
<text transform="translate(1210.32,733.73) scale(1,1.3)" x="0" y="8.2">*</text>
<text transform="translate(1292.28,733.73) scale(1,1.3)" x="0" y="8.2">*</text>
<text transform="translate(1319.60,733.73) scale(1,1.3)" x="0" y="8.2">*</text>
</g>
<g font-family="'Liberation Serif', 'Times New Roman', serif" font-weight="bold" font-size="17.4" fill="#111">
<text x="1108.6" y="495.46" text-anchor="end">TC</text>
<text x="1108.6" y="522.59" text-anchor="end">TG</text>
<text x="1108.6" y="549.73" text-anchor="end">MDA</text>
<text x="1108.6" y="576.85" text-anchor="end">AST</text>
<text x="1108.6" y="603.99" text-anchor="end">SOD</text>
<text x="1108.6" y="631.11" text-anchor="end">Spiculisporic Acid</text>
<text x="1108.6" y="658.25" text-anchor="end">L-Ascorbate</text>
<text x="1108.6" y="685.37" text-anchor="end" textLength="130.5" lengthAdjust="spacingAndGlyphs">FAHFA 16:0/18:2</text>
<text x="1108.6" y="712.50" text-anchor="end">L-Aspartic acid</text>
<text x="1108.6" y="739.63" text-anchor="end">Palmitic Acid</text>
<text transform="translate(1137.76,760.00) rotate(-47.5)" text-anchor="end" font-size="18.2">Pseudomonadota</text>
<text transform="translate(1165.58,761.00) rotate(-45)" text-anchor="end" font-size="18.8">Bacillota</text>
<text transform="translate(1190.90,758.50) rotate(-45)" text-anchor="end">Bacteroidota</text>
<text transform="translate(1218.22,758.50) rotate(-45)" text-anchor="end">Verrucomicrobiota</text>
<text transform="translate(1245.54,758.50) rotate(-45)" text-anchor="end">Actinobacteriota</text>
<text transform="translate(1272.86,758.50) rotate(-45)" text-anchor="end">Desulfobacterota</text>
<text transform="translate(1300.18,758.50) rotate(-45)" text-anchor="end">Deferribacterota</text>
<text transform="translate(1327.50,758.50) rotate(-45)" text-anchor="end">Patescibacteria</text>
<text transform="translate(1354.82,758.50) rotate(-45)" text-anchor="end">Cyanobacteria</text>
<text transform="translate(1382.14,758.50) rotate(-45)" text-anchor="end">Bdellovibrionota</text>
</g>
<defs><linearGradient id="cgrad" x1="0" y1="0" x2="0" y2="1"><stop offset="0" stop-color="#80CCEC"/><stop offset="0.5" stop-color="#FFFFFF"/><stop offset="1" stop-color="#DC3048"/></linearGradient></defs>
<rect x="1394.3" y="476.6" width="18.5" height="271.9" fill="url(#cgrad)" stroke="#555" stroke-width="1.2"/>
<g stroke="#444" stroke-width="1.2">
<line x1="1412.8" y1="476.60" x2="1418" y2="476.60"/>
<line x1="1412.8" y1="503.79" x2="1418" y2="503.79"/>
<line x1="1412.8" y1="530.98" x2="1418" y2="530.98"/>
<line x1="1412.8" y1="558.17" x2="1418" y2="558.17"/>
<line x1="1412.8" y1="585.36" x2="1418" y2="585.36"/>
<line x1="1412.8" y1="612.55" x2="1418" y2="612.55"/>
<line x1="1412.8" y1="639.74" x2="1418" y2="639.74"/>
<line x1="1412.8" y1="666.93" x2="1418" y2="666.93"/>
<line x1="1412.8" y1="694.12" x2="1418" y2="694.12"/>
<line x1="1412.8" y1="721.31" x2="1418" y2="721.31"/>
<line x1="1412.8" y1="748.50" x2="1418" y2="748.50"/>
</g>
<g font-family="'Liberation Serif', 'Times New Roman', serif" font-weight="bold" font-size="17.4" fill="#111">
<text x="1424.4" y="482.60">1</text>
<text x="1424.4" y="509.79">0.8</text>
<text x="1424.4" y="536.98">0.6</text>
<text x="1424.4" y="564.17">0.4</text>
<text x="1424.4" y="591.36">0.2</text>
<text x="1424.4" y="618.55">0</text>
<text x="1424.4" y="645.74">-0.2</text>
<text x="1424.4" y="672.93">-0.4</text>
<text x="1424.4" y="700.12">-0.6</text>
<text x="1424.4" y="727.31">-0.8</text>
<text x="1424.4" y="754.50">-1</text>
</g>
</svg>
</body></html>
